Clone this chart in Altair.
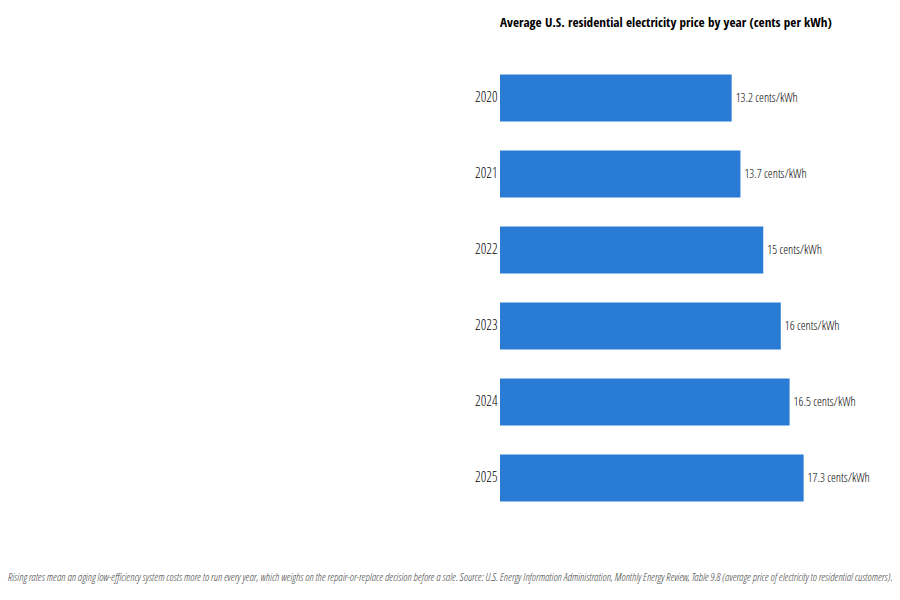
import altair as alt
import pandas as pd

years = ["2020", "2021", "2022", "2023", "2024", "2025"]
prices = [13.2, 13.7, 15.0, 16.0, 16.5, 17.3]
labels = ["13.2 cents/kWh", "13.7 cents/kWh", "15 cents/kWh", "16 cents/kWh", "16.5 cents/kWh", "17.3 cents/kWh"]
title_text = "Average U.S. residential electricity price by year (cents per kWh)"
caption_text = ("Rising rates mean an aging low-efficiency system costs more to run every year, which weighs on the "
                "repair-or-replace decision before a sale. Source: U.S. Energy Information Administration, Monthly "
                "Energy Review, Table 9.8 (average price of electricity to residential customers).")

df = pd.DataFrame({"year": years, "price": prices, "label": labels})
FONT = "Open Sans Condensed Light, Liberation Sans, sans-serif"
TFONT = "Open Sans Condensed, Liberation Sans, sans-serif"

base = alt.Chart(df)
y_enc = alt.Y("year:N", sort=years, title=None,
              scale=alt.Scale(paddingInner=0.38, paddingOuter=0.19),
              axis=alt.Axis(domain=False, ticks=False, labelFont=FONT, labelFontSize=14,
                            labelColor="#000", labelPadding=3))
x_enc = alt.X("price:Q", title=None, scale=alt.Scale(domain=[0, 20], nice=False),
              axis=None)

bars = base.mark_bar(color="#2a7bd4").encode(y=y_enc, x=x_enc)
text = base.mark_text(align="left", dx=4, font=FONT, fontSize=12.3, color="#000").encode(
    y=y_enc, x=x_enc, text="label:N")

cap_df = pd.DataFrame({"t": [caption_text]})
caption = alt.Chart(cap_df).mark_text(font=FONT, fontSize=11, fontStyle="italic", color="#444",
                                      align="center", baseline="middle").encode(
    text="t:N", x=alt.value(-50), y=alt.value(518))

chart = alt.layer(bars, text, caption).properties(
    width=351, height=456,
    title=alt.TitleParams(title_text, anchor="start", frame="group", font=TFONT, fontSize=13.2,
                          fontWeight="bold", color="#000", offset=30),
    padding={"left": 500, "top": 60, "right": 49, "bottom": 84},
    autosize=alt.AutoSizeParams(type="none"),
    background="white",
).configure_view(stroke=None)

chart.save("out.html", embed_options={"renderer": "svg", "actions": False})
